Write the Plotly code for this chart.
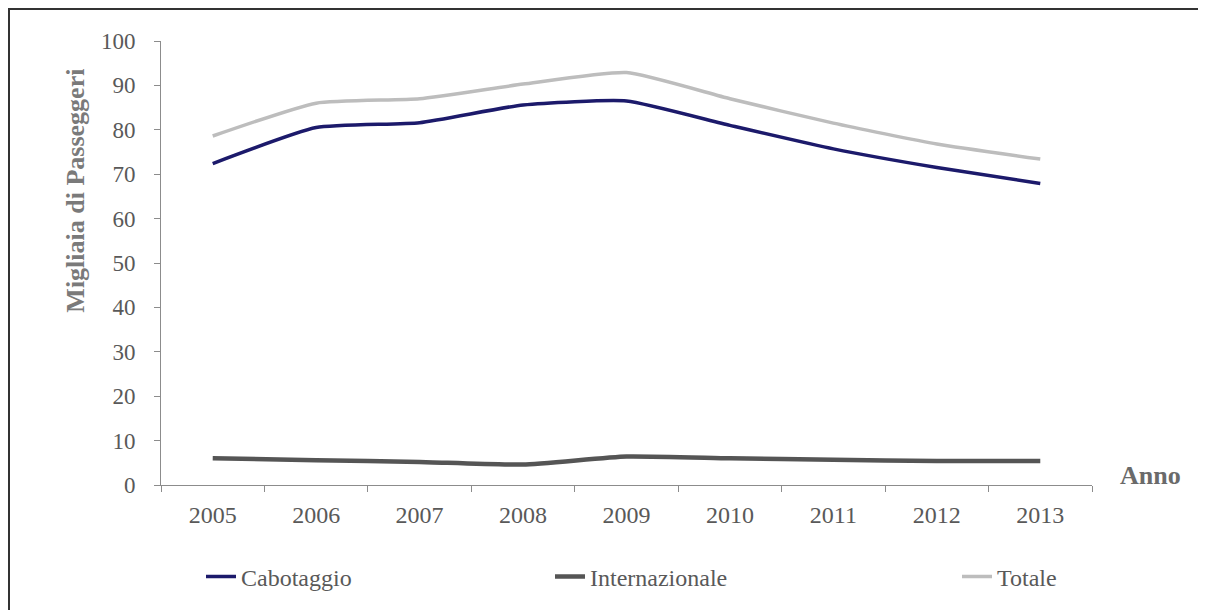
import plotly.graph_objects as go

anni = ["2005", "2006", "2007", "2008", "2009", "2010", "2011", "2012", "2013"]
cabotaggio = [72.4, 80.5, 81.6, 85.6, 86.5, 81.0, 75.7, 71.5, 67.9]
internazionale = [6.0, 5.6, 5.2, 4.6, 6.4, 6.0, 5.7, 5.4, 5.4]
totale = [78.6, 86.0, 87.0, 90.3, 92.9, 87.0, 81.5, 76.8, 73.4]
y_ticks = [0, 10, 20, 30, 40, 50, 60, 70, 80, 90, 100]

SERIF = "Liberation Serif, Times New Roman, serif"
TXT = "#595959"

# the page body has an 8px margin: work in page coordinates and shift by OFF
OFF = 8
W, H = 1206 - OFF, 610 - OFF
PL, PR, PT, PB = 161, 1092, 41, 486          # plot area in page pixels
L, R, T, B = PL - OFF, W - (PR - OFF), PT - OFF, H - (PB - OFF)
pw, ph = W - L - R, H - T - B

def px(x):
    return (x - OFF - L) / pw

def py(y):
    return (H - B - (y - OFF)) / ph

fig = go.Figure()
fig.add_trace(go.Scatter(x=anni, y=cabotaggio, name="Cabotaggio", mode="lines",
                         line=dict(color="#1c1a6b", width=3.5, shape="spline", smoothing=0.5),
                         legend="legend", showlegend=True))
fig.add_trace(go.Scatter(x=anni, y=internazionale, name="Internazionale", mode="lines",
                         line=dict(color="#555555", width=4.5, shape="spline", smoothing=0.5),
                         legend="legend2", showlegend=True))
fig.add_trace(go.Scatter(x=anni, y=totale, name="Totale", mode="lines",
                         line=dict(color="#bdbdbd", width=3.5, shape="spline", smoothing=0.5),
                         legend="legend3", showlegend=True))

leg_common = dict(orientation="h", font=dict(family=SERIF, size=24, color=TXT),
                  bgcolor="rgba(0,0,0,0)", borderwidth=0, xanchor="left", yanchor="middle")

fig.update_layout(
    width=W, height=H, autosize=False, showlegend=True,
    margin=dict(l=L, r=R, t=T, b=B, pad=0),
    paper_bgcolor="white", plot_bgcolor="white",
    font=dict(family=SERIF, color=TXT),
    legend=dict(x=px(201), y=py(577), **leg_common),
    legend2=dict(x=px(550), y=py(577), **leg_common),
    legend3=dict(x=px(957), y=py(577), **leg_common),
    xaxis=dict(type="category", range=[-0.5, 8.5], showgrid=False,
               showline=True, linecolor="#8c8c8c", linewidth=1,
               ticks="outside", tickson="boundaries", ticklen=6, tickcolor="#8c8c8c",
               tickfont=dict(family=SERIF, size=24, color=TXT), ticklabelstandoff=8,
               zeroline=False, fixedrange=True),
    yaxis=dict(range=[0, 100], tickvals=y_ticks, showgrid=False,
               showline=True, linecolor="#8c8c8c", linewidth=1,
               ticks="outside", ticklen=6, tickcolor="#8c8c8c",
               tickfont=dict(family=SERIF, size=23, color=TXT), ticklabelstandoff=14,
               zeroline=False, fixedrange=True),
    annotations=[
        dict(text="<b>Migliaia di Passeggeri</b>", xref="paper", yref="paper",
             x=px(76), y=py(191), textangle=-90, showarrow=False,
             font=dict(family=SERIF, size=26, color="#7a7a7a"),
             xanchor="center", yanchor="middle"),
        dict(text="<b>Anno</b>", xref="paper", yref="paper",
             x=px(1150), y=py(476), showarrow=False,
             font=dict(family=SERIF, size=26, color="#6a6a6a"),
             xanchor="center", yanchor="middle"),
    ],
    shapes=[
        dict(type="line", xref="paper", yref="paper", x0=px(8), x1=px(1220),
             y0=py(9), y1=py(9), line=dict(color="#333333", width=2)),
        dict(type="line", xref="paper", yref="paper", x0=px(9), x1=px(9),
             y0=py(8), y1=py(625), line=dict(color="#333333", width=2)),
    ],
)

fig.write_html("out.html", config={"displayModeBar": False})
